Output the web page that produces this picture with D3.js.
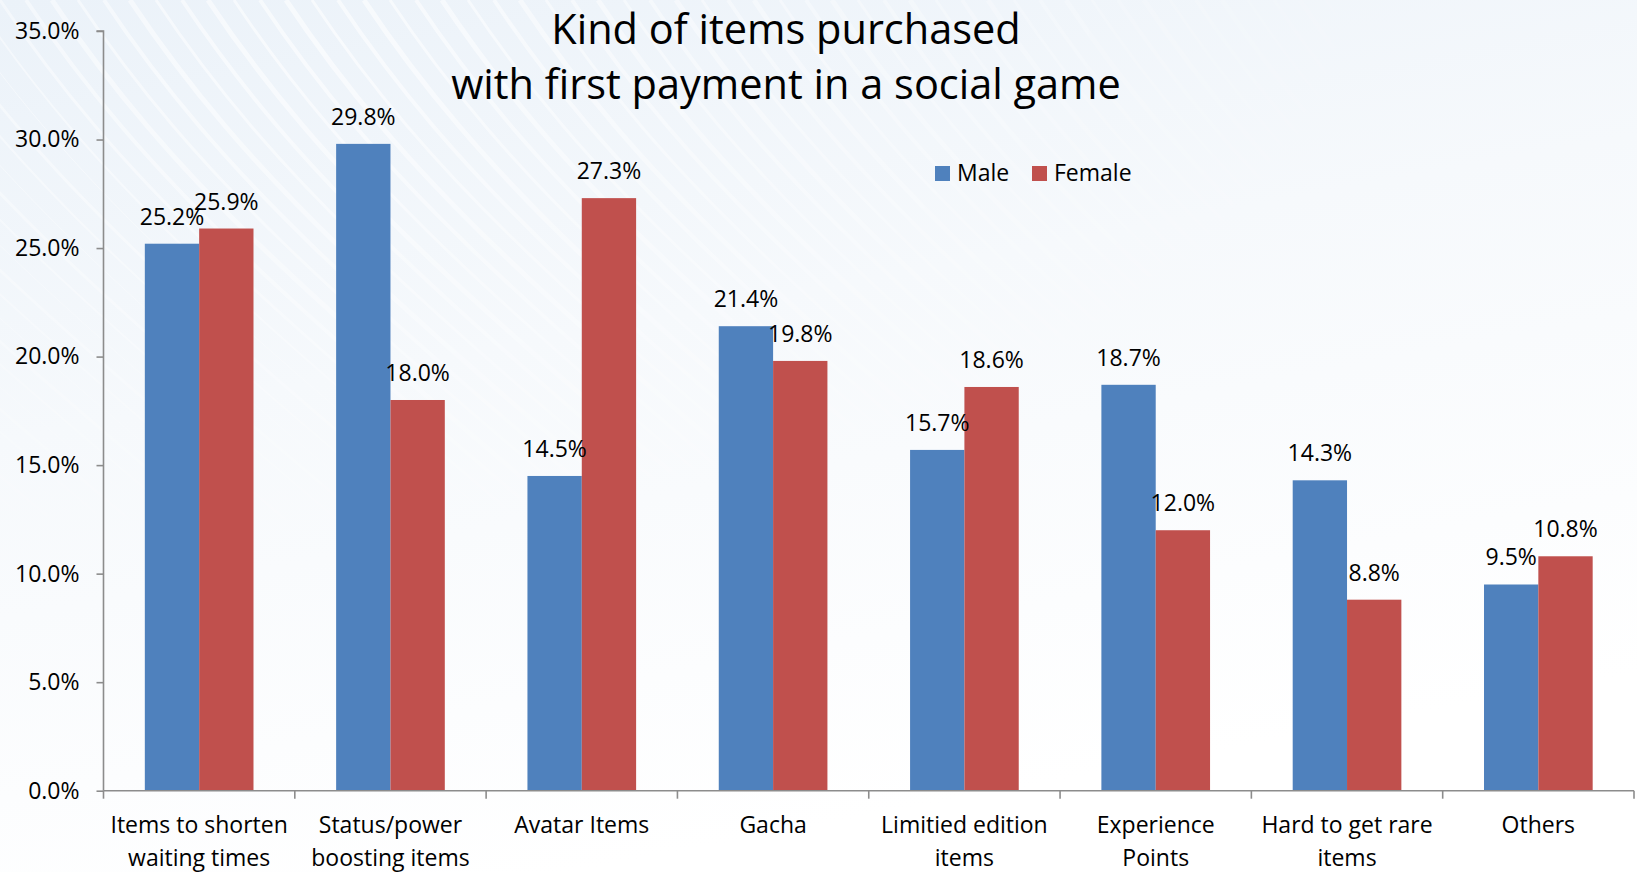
<!DOCTYPE html>
<html>
<head>
<meta charset="utf-8">
<script src="https://cdn.jsdelivr.net/npm/d3@7"></script>
<style>
  html, body { margin: 0; padding: 0; background: #ffffff; }
  svg { display: block; font-family: "Open Sans", "Noto Sans", sans-serif; }
</style>
</head>
<body>
<svg id="chart" width="1637" height="872"></svg>
<script>
// Survey results: kind of item bought with the first payment, by gender (%)
const categories = [
  ["Items to shorten", "waiting times"],
  ["Status/power", "boosting items"],
  ["Avatar Items"],
  ["Gacha"],
  ["Limitied edition", "items"],
  ["Experience", "Points"],
  ["Hard to get rare", "items"],
  ["Others"]
];
const seriesNames = ["Male", "Female"];
const maleValues   = [25.2, 29.8, 14.5, 21.4, 15.7, 18.7, 14.3, 9.5];
const femaleValues = [25.9, 18.0, 27.3, 19.8, 18.6, 12.0, 8.8, 10.8];
const yTicks = [0, 5, 10, 15, 20, 25, 30, 35];
const titleLines = ["Kind of items purchased", "with first payment in a social game"];

const colors = { Male: "#4F81BD", Female: "#C0504D" };
const W = 1637, H = 872;
const plot = { left: 103.5, right: 1634, top: 31, bottom: 790.7 };

const svg = d3.select("#chart");

// ---- background: pale blue wash with faint diagonal streaks ----
const defs = svg.append("defs");
const bg = defs.append("linearGradient").attr("id", "bgGrad")
  .attr("x1", "0").attr("y1", "0").attr("x2", "0.35").attr("y2", "1");
bg.append("stop").attr("offset", "0").attr("stop-color", "#ebf2f9");
bg.append("stop").attr("offset", "0.45").attr("stop-color", "#f6f9fc");
bg.append("stop").attr("offset", "1").attr("stop-color", "#ffffff");
svg.append("rect").attr("width", W).attr("height", H).attr("fill", "url(#bgGrad)");

const fade = defs.append("radialGradient").attr("id", "streakFade")
  .attr("cx", "0.2").attr("cy", "0.05").attr("r", "0.7");
fade.append("stop").attr("offset", "0").attr("stop-color", "#fff").attr("stop-opacity", 1);
fade.append("stop").attr("offset", "1").attr("stop-color", "#fff").attr("stop-opacity", 0);
const mask = defs.append("mask").attr("id", "streakMask");
mask.append("rect").attr("width", W).attr("height", H).attr("fill", "url(#streakFade)");

const streaks = svg.append("g").attr("mask", "url(#streakMask)")
  .attr("fill", "none").attr("stroke", "#ffffff").attr("stroke-opacity", 0.6);
d3.range(-40, 60).forEach(i => {
  const x0 = i * 26;
  streaks.append("path")
    .attr("stroke-width", 3 + (i % 3))
    .attr("d", `M${x0},0 C${x0 + 120},180 ${x0 + 260},300 ${x0 + 520},520`);
});

// ---- scales ----
const x0 = d3.scaleBand()
  .domain(d3.range(categories.length))
  .range([plot.left, plot.right])
  .paddingInner(0.432)
  .paddingOuter(0.216);
const x1 = d3.scaleBand().domain(seriesNames).range([0, x0.bandwidth()]).padding(0);
const y = d3.scaleLinear().domain([0, 35]).range([plot.bottom, plot.top]);

const axisColor = "#8c8c8c";
const fmt = v => d3.format(".1f")(v) + "%";

// ---- y axis ----
const yAxis = svg.append("g")
  .attr("transform", `translate(${plot.left},0)`)
  .call(d3.axisLeft(y).tickValues(yTicks).tickFormat(fmt).tickSize(7).tickPadding(17));
yAxis.select(".domain").attr("stroke", axisColor).attr("stroke-width", 1.6)
  .attr("d", `M-7,${plot.top}H0V${plot.bottom}`);
yAxis.selectAll(".tick line").attr("stroke", axisColor).attr("stroke-width", 1.6);
yAxis.selectAll(".tick text").attr("fill", "#000").attr("font-size", 23)
  .attr("font-family", "Open Sans");

// ---- bars ----
const rows = categories.map((c, i) => ({ i, values: [
  { key: "Male", v: maleValues[i] },
  { key: "Female", v: femaleValues[i] }
]}));

const groups = svg.append("g").selectAll("g").data(rows).join("g")
  .attr("transform", d => `translate(${x0(d.i)},0)`);

groups.selectAll("rect").data(d => d.values).join("rect")
  .attr("x", d => x1(d.key))
  .attr("y", d => y(d.v))
  .attr("width", x1.bandwidth())
  .attr("height", d => y(0) - y(d.v))
  .attr("fill", d => colors[d.key]);

groups.selectAll("text.val").data(d => d.values).join("text")
  .attr("class", "val")
  .attr("x", d => x1(d.key) + x1.bandwidth() / 2)
  .attr("y", d => y(d.v) - 19)
  .attr("text-anchor", "middle")
  .attr("font-size", 23)
  .attr("fill", "#000")
  .text(d => fmt(d.v));

// ---- x axis ----
const xAxis = svg.append("g");
xAxis.append("line")
  .attr("x1", plot.left).attr("x2", plot.right)
  .attr("y1", plot.bottom).attr("y2", plot.bottom)
  .attr("stroke", axisColor).attr("stroke-width", 1.6);
const step = x0.step();
xAxis.selectAll("line.tick").data(d3.range(categories.length + 1)).join("line")
  .attr("class", "tick")
  .attr("x1", i => plot.left + i * step).attr("x2", i => plot.left + i * step)
  .attr("y1", plot.bottom).attr("y2", plot.bottom + 8)
  .attr("stroke", axisColor).attr("stroke-width", 1.6);

xAxis.selectAll("text").data(rows).join("text")
  .attr("text-anchor", "middle")
  .attr("font-size", 23)
  .attr("fill", "#000")
  .each(function(d) {
    const t = d3.select(this);
    categories[d.i].forEach((line, k) => {
      t.append("tspan")
        .attr("x", x0(d.i) + x0.bandwidth() / 2)
        .attr("y", 833 + k * 33)
        .text(line);
    });
  });

// ---- title ----
svg.append("text")
  .attr("text-anchor", "middle")
  .attr("font-size", 41.5)
  .attr("fill", "#000")
  .selectAll("tspan").data(titleLines).join("tspan")
  .attr("x", 786)
  .attr("y", (d, k) => 44 + k * 55)
  .text(d => d);

// ---- legend ----
const legend = svg.append("g").attr("transform", "translate(935,166)");
const legendX = [0, 97];
seriesNames.forEach((name, k) => {
  const g = legend.append("g").attr("transform", `translate(${legendX[k]},0)`);
  g.append("rect").attr("width", 15).attr("height", 15).attr("fill", colors[name]);
  g.append("text").attr("x", 22).attr("y", 15).attr("font-size", 23)
    .attr("fill", "#000").text(name);
});
</script>
</body>
</html>
